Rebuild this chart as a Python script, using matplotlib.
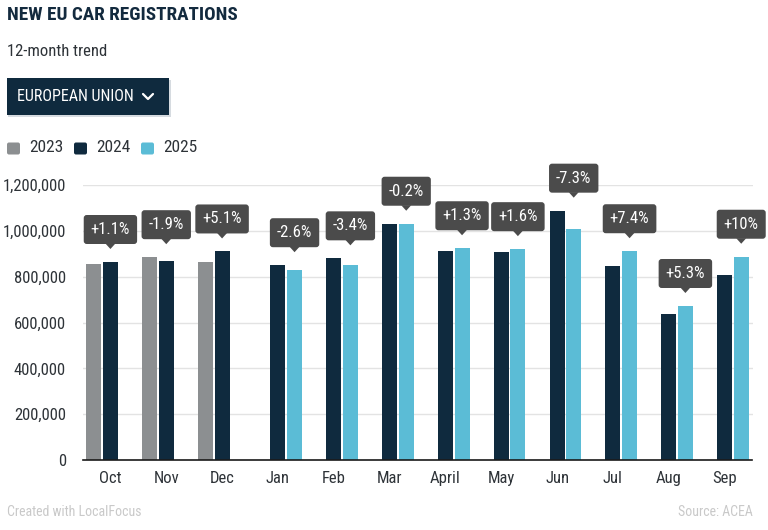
import matplotlib
matplotlib.use("Agg")
import matplotlib.pyplot as plt
from matplotlib.patches import FancyBboxPatch, Polygon, Rectangle
from matplotlib.lines import Line2D
import numpy as np

plt.rcParams['font.family'] = ['Roboto Condensed', 'Roboto', 'DejaVu Sans']

# ---------------- data ----------------
months = ["Oct", "Nov", "Dec", "Jan", "Feb", "Mar", "April", "May", "Jun", "Jul", "Aug", "Sep"]
y2023 = [854000, 885000, 866000, None, None, None, None, None, None, None, None, None]
y2024 = [864000, 868000, 910000, 850000, 880000, 1031000, 912000, 906000, 1088000, 848000, 638000, 806000]
y2025 = [None, None, None, 828000, 850000, 1029000, 924000, 920000, 1008000, 911000, 672000, 887000]
changes = ["+1.1%", "-1.9%", "+5.1%", "-2.6%", "-3.4%", "-0.2%", "+1.3%", "+1.6%", "-7.3%", "+7.4%", "+5.3%", "+10%"]
yticks = [0, 200000, 400000, 600000, 800000, 1000000, 1200000]
series_names = ["2023", "2024", "2025"]

C23 = "#8c8f91"
C24 = "#0f2a3e"
C25 = "#5bbcd6"
CBOX = "#4b4b4b"
CTXT = "#2e3338"
colors = [C23, C24, C25]

W, H = 768, 530
fig = plt.figure(figsize=(W / 100, H / 100), dpi=100)
ax = fig.add_axes([82.5 / W, (H - 460) / H, 670 / W, 275 / H])

x = np.arange(len(months))
slot = 0.298
bw = 0.268
for k, ser in enumerate([y2023, y2024, y2025]):
    xs = [xi + (k - 1) * slot for xi, v in zip(x, ser) if v is not None]
    vs = [v for v in ser if v is not None]
    ax.bar(xs, vs, width=bw, color=colors[k], zorder=3)

ax.set_xlim(-0.5, len(months) - 0.5)
ax.set_ylim(0, 1200000)
ax.set_yticks(yticks)
ax.set_yticklabels([f"{v:,}" for v in yticks])
ax.set_xticks(x)
ax.set_xticklabels(months)
ax.tick_params(axis='both', length=0, labelsize=12, colors=CTXT)
ax.tick_params(axis='y', pad=12)
ax.tick_params(axis='x', pad=8)
ax.grid(axis='y', color="#e3e3e3", linewidth=1, zorder=0)
for s in ["top", "right", "left"]:
    ax.spines[s].set_visible(False)
ax.spines["bottom"].set_color("#1a1a1a")
ax.spines["bottom"].set_linewidth(1.2)
ax.spines["bottom"].set_zorder(4)

# ---------------- change labels ----------------
fig.canvas.draw()
renderer = fig.canvas.get_renderer()
for i in range(len(months)):
    vals = [v for v in (y2023[i], y2024[i], y2025[i]) if v is not None]
    top = max(vals)
    last_k = 2 if y2025[i] is not None else 1
    px, py = ax.transData.transform((x[i] + (last_k - 1) * slot, top))
    tip_y = py + 13
    bh = 29
    by0 = tip_y + 5
    t = fig.text(px / W, (by0 + bh / 2) / H, changes[i], color="white", fontsize=12,
                 ha="center", va="center", zorder=11)
    tw = t.get_window_extent(renderer).width
    bwid = tw + 14
    box = FancyBboxPatch((px - bwid / 2, by0), bwid, bh,
                         boxstyle="round,pad=0,rounding_size=3",
                         transform=None, facecolor=CBOX, edgecolor="none", zorder=10)
    fig.patches.append(box)
    tri = Polygon([[px - 5, by0 + 0.5], [px + 5, by0 + 0.5], [px, tip_y]], closed=True,
                  transform=None, facecolor=CBOX, edgecolor="none", zorder=10)
    fig.patches.append(tri)

# ---------------- header ----------------
def fy(ypx):
    return 1 - ypx / H

fig.text(7 / W, fy(15), "NEW EU CAR REGISTRATIONS", fontsize=13.8, fontweight="bold",
         color="#132a3e", ha="left", va="center")
fig.text(7 / W, fy(52), "12-month trend", fontsize=12, color=CTXT, ha="left", va="center")

# dropdown button
shadow = Rectangle((8, H - 117), 163, 37, transform=None, facecolor="#d6dbe0",
                   edgecolor="none", zorder=1)
fig.patches.append(shadow)
btn = Rectangle((7, H - 115), 162, 37, transform=None, facecolor=C24, edgecolor="none", zorder=2)
fig.patches.append(btn)
fig.text(17 / W, fy(96.5), "EUROPEAN UNION", fontsize=11.5, color="white", ha="left",
         va="center", zorder=3)
chev = Line2D([143, 148, 153], [H - 94, H - 99, H - 94], transform=None, color="white",
              linewidth=1.6, solid_capstyle="round", solid_joinstyle="round", zorder=3)
fig.lines.append(chev)

# legend
leg_sq_x = [7, 74, 141]
leg_tx_x = [29, 96, 163]
for k in range(3):
    sq = FancyBboxPatch((leg_sq_x[k], H - 154.5), 13, 12, boxstyle="round,pad=0,rounding_size=2",
                        transform=None, facecolor=colors[k], edgecolor="none")
    fig.patches.append(sq)
    fig.text(leg_tx_x[k] / W, fy(148), series_names[k], fontsize=12.5, color=CTXT,
             ha="left", va="center")

# footer
fig.text(7 / W, fy(512), "Created with LocalFocus", fontsize=10, color="#c9c9c9",
         ha="left", va="center")
fig.text(753 / W, fy(512), "Source: ACEA", fontsize=10, color="#c9c9c9",
         ha="right", va="center")

fig.savefig("out.png", dpi=100)
